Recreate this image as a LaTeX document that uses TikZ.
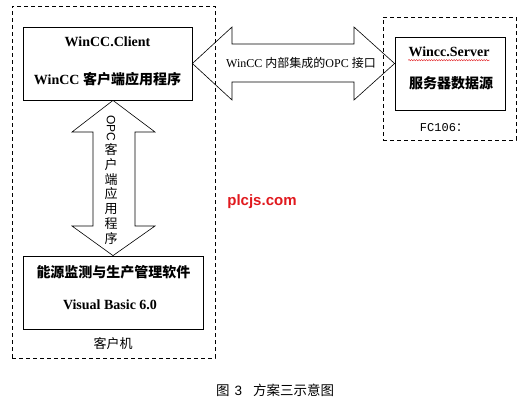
\documentclass[tikz,border=0pt]{standalone}
\usepackage{fontspec}
\setmainfont{Liberation Serif}
\newfontfamily\cjk{Noto Sans CJK SC}
\newfontfamily\sansf{Liberation Sans}
\newfontfamily\monof{Liberation Mono}
\usetikzlibrary{decorations.pathmorphing}
\definecolor{wmred}{RGB}{225,25,30}
\begin{document}
\begin{tikzpicture}[x=1pt,y=-1pt,
  box/.style={draw, line width=0.8pt, inner sep=0},
  dbox/.style={draw, line width=0.8pt, dash pattern=on 4pt off 3pt, inner sep=0},
  arr/.style={draw, line width=0.6pt, line join=miter},
  btxt/.style={font=\fontsize{14}{16}\selectfont\bfseries, inner sep=0},
  ntxt/.style={font=\fontsize{12}{14}\selectfont, inner sep=0}]
\useasboundingbox[fill=white] (0,0) rectangle (523,405);

% dashed containers
\node[dbox, minimum width=203, minimum height=352] (clientpc) at (113.5,182) {};
\node[dbox, minimum width=133, minimum height=123] (serverpc) at (449.5,78.5) {};

% boxes
\node[box, minimum width=169, minimum height=73] (client) at (107.5,63.5) {};
\node[box, minimum width=180, minimum height=73] (lower) at (113,292.5) {};
\node[box, minimum width=110, minimum height=73] (server) at (450,73.5) {};

% box texts
\node[btxt] (clienttitle) at (107.5,42) {WinCC.Client};
\node[btxt] (clientsub) at (107.5,79) {WinCC {\cjk\bfseries 客户端应用程序}};
\node[btxt] (lowertitle) at (113.5,272) {\cjk\bfseries 能源监测与生产管理软件};
\node[btxt] (lowersub) at (110,305) {Visual Basic 6.0};
\node[btxt] (servertitle) at (449,52) {Wincc.Server};
\node[btxt] (serversub) at (451,83) {\cjk\bfseries 服务器数据源};
\draw[wmred, line width=0.4pt, decorate, decoration={snake, amplitude=0.7pt, segment length=2.5pt}]
  ([yshift=-3pt]servertitle.south west) -- ([yshift=-3pt]servertitle.south east);

% horizontal double arrow
\draw[arr] (client.east) -- (232,27) -- (232,44) -- (354,44) -- (354,27)
  -- (server.west |- client.east) -- (354,100) -- (354,82) -- (232,82) -- (232,100) -- cycle;
\node[ntxt] (hlabel) at (301,63) {WinCC {\cjk 内部集成的}OPC {\cjk 接口}};

% vertical double arrow
\draw[arr] (lower.north |- client.south) -- (155,132) -- (135,132) -- (135,226) -- (155,226)
  -- (lower.north) -- (72,226) -- (93,226) -- (93,132) -- (72,132) -- cycle;
\node[font=\sansf\fontsize{12}{14}\selectfont, inner sep=0, rotate=-90] (vopc) at (111,128) {OPC};
\node[font=\cjk\fontsize{13}{14.7}\selectfont, inner sep=0, align=center] (vcjk) at (111,194)
  {客\\户\\端\\应\\用\\程\\序};

% other labels
\node[font=\cjk\fontsize{13}{15}\selectfont, inner sep=0] (pclabel) at (113,344) {客户机};
\node[font=\monof\fontsize{12}{14}\selectfont, inner sep=0] (fclabel) at (444,128) {FC106{\cjk ：}};
\node[font=\sansf\bfseries\fontsize{15}{17}\selectfont, text=wmred, inner sep=0] (wm) at (262,202) {plcjs.com};
\node[font=\cjk\fontsize{13.5}{15}\selectfont, inner sep=0, anchor=west] (caption) at (216,390)
  {图\hspace{5pt}{\sansf 3}\hspace{11pt}方案三示意图};
\end{tikzpicture}
\end{document}
